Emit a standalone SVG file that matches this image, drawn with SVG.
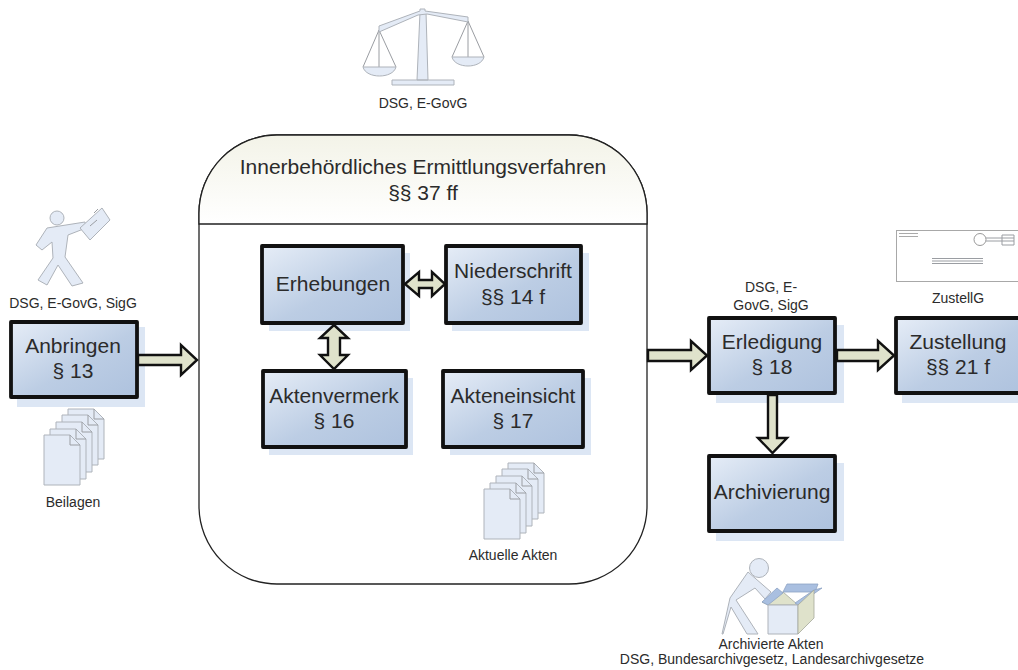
<svg xmlns="http://www.w3.org/2000/svg" width="1018" height="670" viewBox="0 0 1018 670">
<style>
text{font-family:"Liberation Sans",Arial,sans-serif;fill:#2b2b2b;text-anchor:middle}
.n{font-size:21px}
.s{font-size:14px}
.h{font-size:21px}
.box{fill:url(#g);stroke:#111;stroke-width:3.8;stroke-linejoin:round}
.sh{fill:#dce6f4}
.ar{fill:#dfe2cb;stroke:#111;stroke-width:2.4;stroke-linejoin:miter}
.ic{fill:#e4ebf6;stroke:#aeb3ba;stroke-width:1}
.ln{fill:none;stroke:#9a9da2;stroke-width:1}
.bl{fill:#a9bfe0;stroke:#8ea3c4;stroke-width:.8}
.bg{fill:#dfe2cb;stroke:#a5a89a;stroke-width:.8}
</style>
<defs>
<linearGradient id="g" x1="0" y1="0" x2="1" y2="1"><stop offset="0" stop-color="#e6edf7"/><stop offset=".55" stop-color="#bccde4"/><stop offset="1" stop-color="#aec2de"/></linearGradient>
<linearGradient id="hd" x1="0" y1="0" x2="0" y2="1"><stop offset="0" stop-color="#f3f3e8"/><stop offset="1" stop-color="#ffffff"/></linearGradient>
<g id="doc">
<path class="ic" d="M0 0H26L36 10V50H0Z"/><path class="ln" d="M26 0V10H36"/>
</g>
<g id="docs">
<use href="#doc" x="24" y="-26"/><use href="#doc" x="18" y="-20"/><use href="#doc" x="12" y="-13"/><use href="#doc" x="6" y="-6"/><use href="#doc"/>
</g>
</defs>
<g id="container">
<rect x="199" y="135" width="448" height="449" rx="78" ry="78" fill="#fff" stroke="#222" stroke-width="1.3"/>
<path d="M199 224V213A78 78 0 0 1 277 135H569A78 78 0 0 1 647 213V224Z" fill="url(#hd)" stroke="#222" stroke-width="1.3"/>
<text class="h" x="423" y="174">Innerbehördliches Ermittlungsverfahren</text>
<text class="h" x="423" y="200">§§ 37 ff</text>
</g>
<g id="scale">
<path class="ln" d="M379 30L363 67M379 30L396 67M379 30V67M468 21L452 57M468 21L484 57M468 21V57"/>
<path class="ic" d="M363 67H396C393 79 366 79 363 67ZM452 57H484C481 69 455 69 452 57Z"/>
<path class="ic" d="M392 80H454V85H392ZM417 80L420 12H426L428 80Z"/>
<path class="ic" d="M379 26L420 11V9H425V11L468 17V22L427 14L418 15L379 32Z"/>
<text class="s" x="423" y="108">DSG, E-GovG</text>
</g>
<g id="person-send">
<circle cx="57" cy="218" r="7" class="ic"/>
<path class="ic" d="M47 228L85 222L86 228L68 235L65 257L83 283L72 286L58 265L47 285L38 280L53 258L52 242L42 250L36 245Z"/>
<path class="ic" d="M80 228L102 208L110 220L90 240Z"/>
<path class="ln" d="M90 226L97 220M94 213L98 209"/>
<text class="s" x="73" y="308">DSG, E-GovG, SigG</text>
</g>
<g id="anbringen">
<rect class="sh" x="17" y="327" width="128" height="80"/>
<rect class="box" x="11" y="322" width="126" height="75"/>
<text class="n" x="73" y="353">Anbringen</text><text class="n" x="73" y="378">§ 13</text>
</g>
<g id="beilagen">
<use href="#docs" x="44" y="435"/>
<text class="s" x="73" y="507">Beilagen</text>
</g>
<g id="erhebungen">
<rect class="sh" x="269" y="253" width="141" height="78"/>
<rect class="box" x="262" y="246" width="141" height="77"/>
<text class="n" x="333" y="291">Erhebungen</text>
</g>
<g id="niederschrift">
<rect class="sh" x="452" y="253" width="137" height="78"/>
<rect class="box" x="446" y="246" width="135" height="77"/>
<text class="n" x="513" y="278">Niederschrift</text><text class="n" x="513" y="304">§§ 14 f</text>
</g>
<g id="aktenvermerk">
<rect class="sh" x="269" y="378" width="144" height="77"/>
<rect class="box" x="263" y="371" width="143" height="76"/>
<text class="n" x="334" y="403">Aktenvermerk</text><text class="n" x="334" y="428">§ 16</text>
</g>
<g id="akteneinsicht">
<rect class="sh" x="450" y="378" width="141" height="77"/>
<rect class="box" x="443" y="371" width="140" height="76"/>
<text class="n" x="513" y="403">Akteneinsicht</text><text class="n" x="513" y="428">§ 17</text>
</g>
<g id="akten">
<use href="#docs" x="484" y="489"/>
<text class="s" x="513" y="560">Aktuelle Akten</text>
</g>
<g id="erledigung">
<rect class="sh" x="716" y="325" width="128" height="78"/>
<rect class="box" x="709" y="318" width="126" height="75"/>
<text class="n" x="772" y="349">Erledigung</text><text class="n" x="772" y="374">§ 18</text>
<text class="s" x="771" y="292">DSG, E-</text><text class="s" x="771" y="310">GovG, SigG</text>
</g>
<g id="zustellung">
<rect class="sh" x="902" y="325" width="128" height="78"/>
<rect class="box" x="896" y="318" width="130" height="75"/>
<text class="n" x="958" y="349">Zustellung</text><text class="n" x="958" y="374">§§ 21 f</text>
</g>
<g id="archivierung">
<rect class="sh" x="716" y="463" width="128" height="78"/>
<rect class="box" x="709" y="456" width="126" height="75"/>
<text class="n" x="772" y="499">Archivierung</text>
</g>
<g id="envelope">
<rect x="896.500" y="230.500" width="130" height="51" fill="#fff" stroke="#a8a8a8"/>
<path d="M899 233.500H918M899 236.500H918" stroke="#aaa" fill="none"/>
<path class="ln" d="M932 258.500H983M932 261H983M932 263.500H983"/>
<circle cx="980" cy="239.500" r="6" fill="#fff" stroke="#999"/>
<path class="ln" d="M986 238H1002M986 241H1002M1002 235H1014V245H1002ZM1002 238H1014M1002 241H1014"/>
<text class="s" x="958" y="303">ZustellG</text>
</g>
<g id="archive">
<circle cx="759" cy="568" r="9.500" class="ic"/>
<path class="ic" d="M748 572L771 592L765 599L755 588L736 600L758 634H747L731 607L723 634H722L730 598Z"/>
<path class="bg" d="M762 602L783 592L798 605H768Z"/>
<path class="bl" d="M787 584H818L815 592H783Z"/>
<path class="bl" d="M762 602L777 588L783 593L768 605Z"/>
<path class="bl" d="M798 605L822 588L814 590L795 603Z"/>
<path class="ic" d="M768 605H798V634H768Z"/>
<path class="bg" d="M798 605L814 590V618L798 634Z"/>
<text class="s" x="771" y="649">Archivierte Akten</text>
<text class="s" x="772" y="664">DSG, Bundesarchivgesetz, Landesarchivgesetze</text>
</g>
<g id="connectors">
<path class="ar" d="M138 355H181V345L197 360L181 375V365H138Z"/>
<path class="ar" d="M648 350H691V341L707 355.500L691 370V361H648Z"/>
<path class="ar" d="M837 350H878V341L894 355.500L878 370V361H837Z"/>
<path class="ar" d="M768 395H777V438H787L772.500 453L758 438H768Z"/>
<path class="ar" d="M405 284L419 272V280H432V272L445 284L432 296V288H419V296Z"/>
<path class="ar" d="M334 325L348 338H340V355H348L334 369L320 355H328V338H320Z"/>
</g>
</svg>
